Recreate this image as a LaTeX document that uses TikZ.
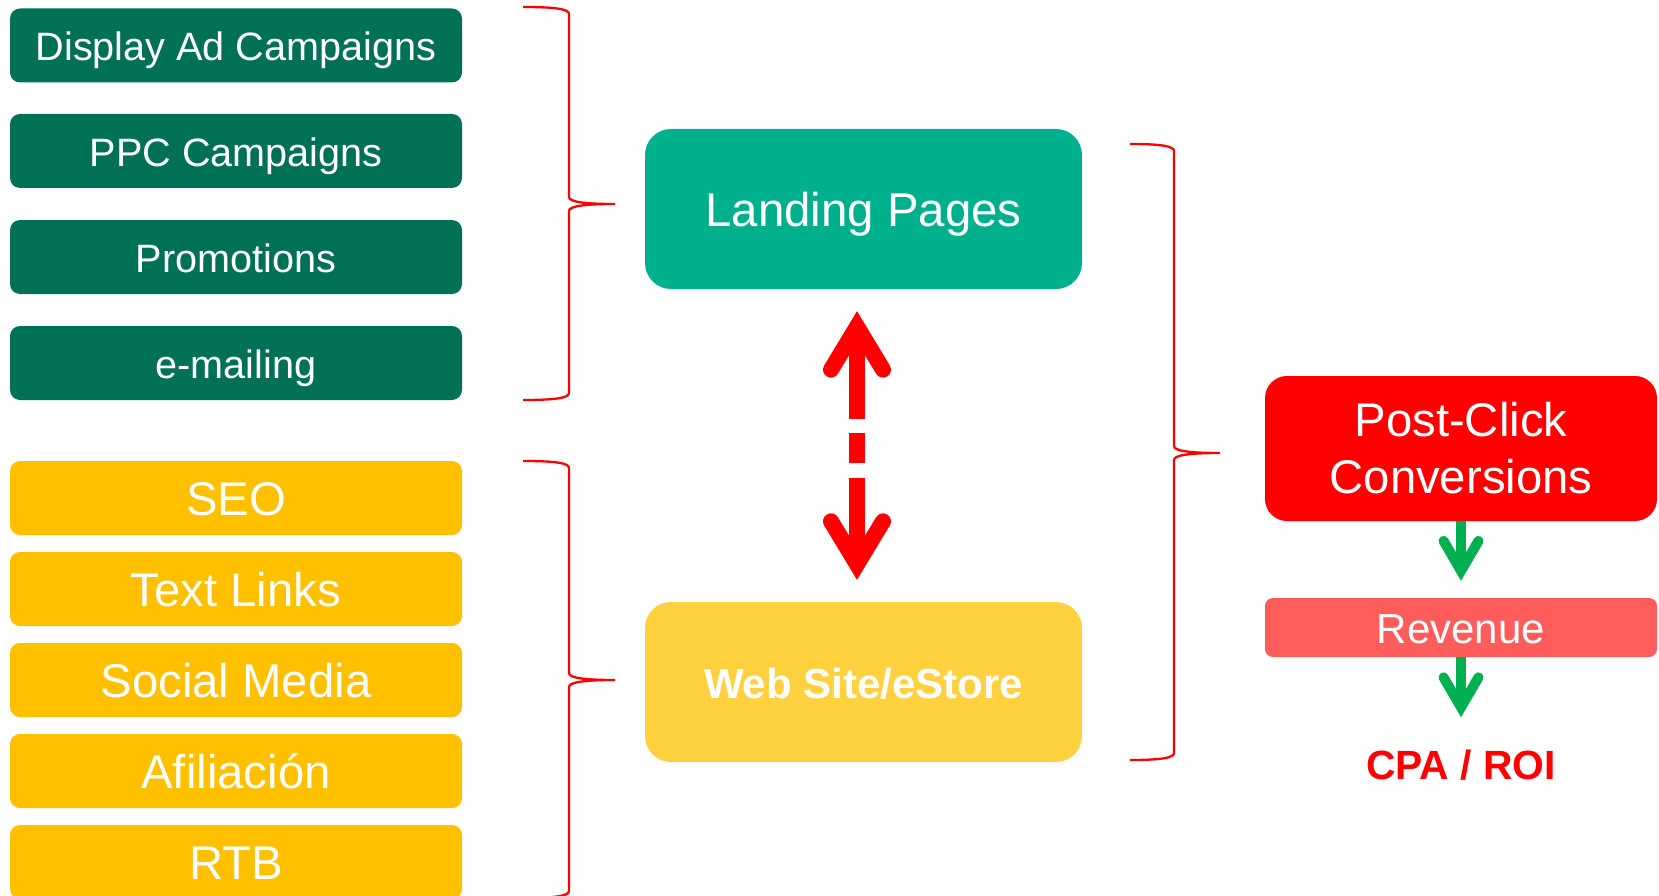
\documentclass[tikz,border=0pt]{standalone}
\usepackage{fontspec}
\setmainfont{Liberation Sans}
\usetikzlibrary{arrows.meta}

\definecolor{campgreen}{RGB}{0,112,86}
\definecolor{landteal}{RGB}{0,176,140}
\definecolor{organic}{RGB}{255,192,0}
\definecolor{storeyel}{RGB}{255,209,63}
\definecolor{convred}{RGB}{255,0,0}
\definecolor{revred}{RGB}{255,92,92}
\definecolor{flowgreen}{RGB}{0,176,80}

\tikzset{
  srcbox/.style={rectangle, rounded corners=10pt, minimum width=452pt, inner sep=0pt,
    text=white, text depth=0pt},
  paidbox/.style={srcbox, fill=campgreen, minimum height=74pt, text height=30.4pt,
    font=\fontsize{39.6}{47}\selectfont},
  freebox/.style={srcbox, fill=organic, minimum height=74pt, text height=35.9pt,
    font=\fontsize{47.3}{56}\selectfont},
  hubbox/.style={rectangle, rounded corners=26pt, minimum width=437pt, minimum height=160pt,
    inner sep=0pt, text=white, text depth=0pt},
  bracket/.style={draw=convred, line width=2.3pt},
  barb/.tip={Straight Barb[length=43pt, width=52pt, line cap=round, line join=miter]},
  gbarb/.tip={Straight Barb[length=30pt, width=35pt, line cap=round, line join=miter]},
  swaparrow/.style={draw=convred, line width=16pt, {barb}-{barb},
    dash pattern=on 84pt off 14pt on 30pt off 15pt on 400pt},
  flowarrow/.style={draw=flowgreen, line width=10pt, -{gbarb}},
}

\begin{document}
\begin{tikzpicture}[x=1pt, y=-1pt]
  \useasboundingbox (0,0) rectangle (1659,896);

  % paid traffic sources
  \node[paidbox] (dad)  at (236,45.5) {Display Ad Campaigns};
  \node[paidbox] (ppc)  at (236,151)  {PPC Campaigns};
  \node[paidbox] (prom) at (236,257)  {Promotions};
  \node[paidbox] (mail) at (236,363)  {e-mailing};

  % organic and partner sources
  \node[freebox] (seo)  at (236,498) {SEO};
  \node[freebox] (txt)  at (236,589) {Text Links};
  \node[freebox] (soc)  at (236,680) {Social Media};
  \node[freebox] (afi)  at (236,771) {Afiliación};
  \node[freebox] (rtb)  at (236,862) {RTB};

  % destinations
  \node[hubbox, fill=landteal, text height=35.9pt,
        font=\fontsize{47.4}{56}\selectfont] (lp) at (863.5,209) {Landing Pages};
  \node[hubbox, fill=storeyel, text height=32.1pt,
        font=\fontsize{42}{50}\selectfont\bfseries] (ws) at (863.5,682) {Web Site/eStore};

  % outcomes
  \node[rectangle, rounded corners=22pt, fill=convred, minimum width=392pt, minimum height=145pt,
        inner sep=0pt, text=white, align=center,
        font=\fontsize{47.3}{57}\selectfont] (pc) at (1461,448.5) {Post-Click\\Conversions};
  \node[rectangle, rounded corners=8pt, fill=revred, minimum width=392pt, minimum height=59pt,
        inner sep=0pt, text=white, text height=32.1pt, text depth=0pt,
        font=\fontsize{42}{50}\selectfont] (rev) at (1461,627.5) {Revenue};
  \node[inner sep=0pt, text=convred, text height=29.2pt, text depth=0pt,
        font=\fontsize{40.8}{48}\selectfont\bfseries] (cpa) at (1461,765) {CPA / ROI};

  % two-way link between landing pages and the store
  \draw[swaparrow, shorten <=22pt, shorten >=22pt]
    ([xshift=-6.5pt]lp.south) -- ([xshift=-6.5pt]ws.north);

  % conversion flow
  \draw[flowarrow, shorten >=17pt] (pc.south) -- (rev.north);
  \draw[flowarrow, shorten >=33pt] (rev.south) -- (cpa.north);

  % grouping brackets
  \draw[bracket] (523,7) .. controls (555,7) and (569,9) .. (569,14)
    -- (569,197) .. controls (569,202) and (585,204) .. (615,204)
    .. controls (585,204) and (569,206) .. (569,211)
    -- (569,393) .. controls (569,398) and (555,400) .. (523,400);
  \draw[bracket] (523,461) .. controls (555,461) and (569,463) .. (569,468)
    -- (569,673) .. controls (569,678) and (585,680) .. (615,680)
    .. controls (585,680) and (569,682) .. (569,687)
    -- (569,891) .. controls (569,896) and (555,898) .. (523,898);
  \draw[bracket] (1130,144) .. controls (1160,144) and (1174,146) .. (1174,151)
    -- (1174,446) .. controls (1174,451) and (1190,453) .. (1220,453)
    .. controls (1190,453) and (1174,455) .. (1174,460)
    -- (1174,753) .. controls (1174,758) and (1160,760) .. (1130,760);
\end{tikzpicture}
\end{document}
